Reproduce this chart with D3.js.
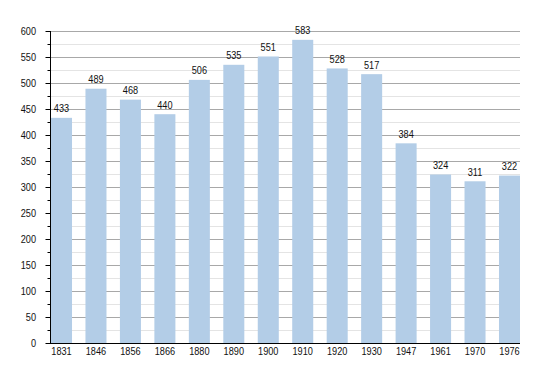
<!DOCTYPE html>
<html><head><meta charset="utf-8">
<script src="https://cdn.jsdelivr.net/npm/d3@7"></script>
<style>body{margin:0;background:#fff}svg{display:block}text{font-family:"Liberation Sans",Arial,sans-serif}</style>
</head><body><svg id="c" width="550" height="373"></svg>
<script>
const years = ["1831","1846","1856","1866","1880","1890","1900","1910","1920","1930","1947","1961","1970","1976"];
const population = [433,489,468,440,506,535,551,583,528,517,384,324,311,322];
const yTicks = [0,50,100,150,200,250,300,350,400,450,500,550,600];
const yMinor = [25,75,125,175,225,275,325,375,425,475,525,575];

const FONT = "Liberation Sans, Arial, sans-serif";
const FS = 11.2, SX = 0.82;
const svg = d3.select("#c");
const L = 50, R = 520, T = 31, B = 343;
const x = d3.scaleBand().domain(years).range([L+1, R]).paddingInner(0.39).paddingOuter(0);
const y = d3.scaleLinear().domain([0,600]).range([B, T]);

svg.append("g").selectAll("line").data(yMinor).join("line")
  .attr("x1", L).attr("x2", R).attr("y1", d=>y(d)+0.5).attr("y2", d=>y(d)+0.5)
  .attr("stroke", "#e4e4e4").attr("stroke-width", 1);
svg.append("g").selectAll("line").data(yTicks.filter(d=>d>0)).join("line")
  .attr("x1", L).attr("x2", R).attr("y1", d=>y(d)+0.5).attr("y2", d=>y(d)+0.5)
  .attr("stroke", "#a8a8a8").attr("stroke-width", 1);

svg.append("g").selectAll("rect").data(population).join("rect")
  .attr("x", (d,i)=>x(years[i])).attr("width", x.bandwidth())
  .attr("y", d=>y(d)).attr("height", d=>B-y(d))
  .attr("fill", "#b3cde7");

svg.append("g").selectAll("text").data(population).join("text")
  .attr("transform", (d,i)=>`translate(${x(years[i])+x.bandwidth()/2},${y(d)-5.5}) scale(${SX},1)`)
  .attr("text-anchor","middle").attr("font-size", FS).attr("fill","#111")
  .attr("font-family", FONT)
  .text(d=>d);

// y axis
const ya = d3.axisLeft(y).tickValues(yTicks).tickSize(5).tickPadding(10).tickFormat(d3.format("d"));
const gy = svg.append("g").attr("transform", `translate(${L+0.5},0)`).call(ya);
gy.select(".domain").remove();
gy.selectAll("text").attr("x", 0).attr("transform", `translate(-14.5,0) scale(${SX},1)`)
  .attr("font-size", FS).attr("fill","#111").attr("font-family", FONT);
gy.selectAll("line").attr("stroke","#000");
const ym = d3.axisLeft(y).tickValues(yMinor).tickSize(3).tickFormat("");
const gym = svg.append("g").attr("transform", `translate(${L+0.5},0)`).call(ym);
gym.select(".domain").remove();
gym.selectAll("line").attr("stroke","#000");

svg.append("line").attr("x1", L+0.5).attr("x2", L+0.5).attr("y1", T).attr("y2", B+1).attr("stroke","#000");
svg.append("line").attr("x1", L).attr("x2", R).attr("y1", B+0.5).attr("y2", B+0.5).attr("stroke","#000");

// x axis labels
const xa = d3.axisBottom(x).tickSize(0).tickPadding(5);
const gx = svg.append("g").attr("transform", `translate(0,${B})`).call(xa);
gx.select(".domain").remove();
gx.selectAll("text").attr("y", 0).attr("dy", null)
  .attr("transform", `translate(0,12) scale(${SX},1)`)
  .attr("font-size", FS).attr("fill","#111").attr("font-family", FONT);
</script></body></html>
